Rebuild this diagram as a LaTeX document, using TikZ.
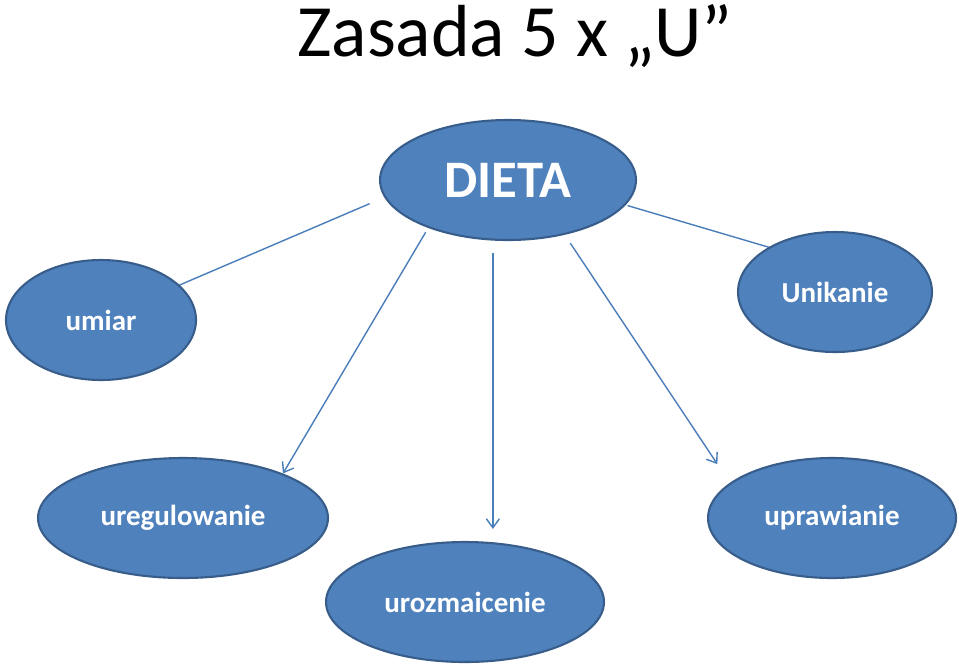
\documentclass[tikz,border=0pt]{standalone}
\usepackage{fontspec}
\setmainfont{Carlito}
\usepackage{xcolor}
\definecolor{Fill}{HTML}{4F81BD}
\definecolor{Edge}{HTML}{385D8A}
\definecolor{Wire}{HTML}{4A7EBB}
\usetikzlibrary{arrows.meta,shapes.geometric,backgrounds}

\begin{document}
\begin{tikzpicture}[x=0.02cm,y=-0.02cm,
  bubble/.style={ellipse,draw=Edge,line width=1.2pt,fill=Fill,text=white,
    font=\fontsize{16.5}{20}\selectfont\bfseries,minimum height=2.4cm,inner sep=0pt},
  wire/.style={draw=Wire,line width=0.8pt,-{Straight Barb[length=1.8mm,width=2.6mm]}}]
\useasboundingbox (0,0) rectangle (959,667);
\node[font=\fontsize{42}{48}\selectfont,anchor=base] (title) at (515,56) {Zasada 5 x „U”};
\node[bubble,minimum width=5.12cm,font=\fontsize{30}{35}\selectfont\bfseries] (dieta) at (508,180) {DIETA};
\node[bubble,minimum width=3.8cm] (umiar) at (101,320) {umiar};
\node[bubble,minimum width=3.88cm] (unik) at (835,292) {Unikanie};
\node[bubble,minimum width=5.8cm] (uregul) at (183,518) {uregulowanie};
\node[bubble,minimum width=5.56cm] (urozm) at (465,602) {urozmaicenie};
\node[bubble,minimum width=4.96cm] (upraw) at (832,518) {uprawianie};
% arrows from DIETA, two of them end under the ellipses
\begin{scope}[on background layer]
\draw[wire,shorten <=0.32cm,shorten >=-0.33cm] (dieta.188.9) -- (umiar.24.5);
\draw[wire,shorten <=0.04cm,shorten >=-0.5cm] (dieta.348) -- (unik.146.4);
\draw[wire,shorten <=0.1cm] (dieta.211.6) -- (uregul.24.9);
\draw[wire,shorten <=0.25cm,shorten >=0.24cm] (dieta.256) -- (dieta.256 |- urozm.north);
\draw[wire,shorten <=0.2cm,shorten >=0.45cm] (dieta.316.5) -- (upraw.161.3);
\end{scope}
\end{tikzpicture}
\end{document}
